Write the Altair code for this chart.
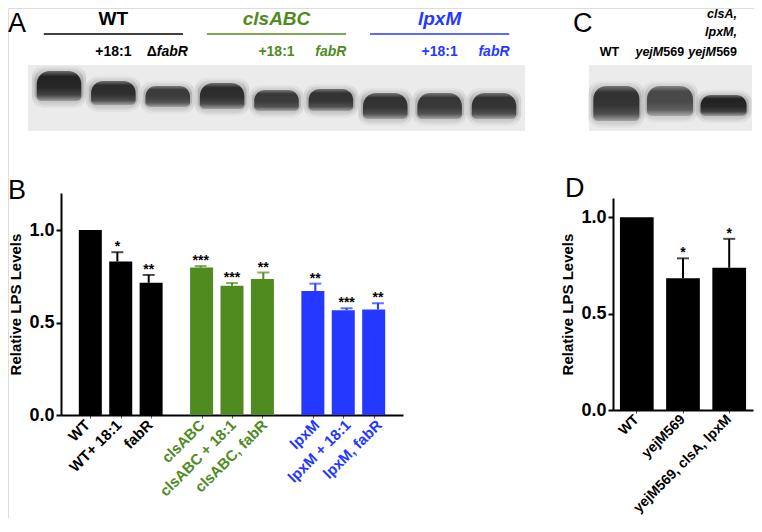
import altair as alt
import pandas as pd

FONT = "Liberation Sans"
GREEN = "#4f8b1f"
BLUE = "#2438ff"
GROUP_COLOR = {"WT": "#000000", "clsABC": GREEN, "lpxM": BLUE}

# ---------------- Panel B data ----------------
b_labels = ["WT", "WT+ 18:1", "fabR", "clsABC", "clsABC + 18:1", "clsABC, fabR",
            "lpxM", "lpxM + 18:1", "lpxM, fabR"]
b_groups = ["WT", "WT", "WT", "clsABC", "clsABC", "clsABC", "lpxM", "lpxM", "lpxM"]
b_values = [1.00, 0.83, 0.715, 0.797, 0.699, 0.735, 0.67, 0.566, 0.57]
b_errors = [0.0, 0.05, 0.042, 0.008, 0.014, 0.035, 0.04, 0.011, 0.034]
b_stars = ["", "*", "**", "***", "***", "**", "**", "***", "**"]

# ---------------- Panel D data ----------------
d_labels = ["WT", "yejM569", "yejM569, clsA, lpxM"]
d_values = [1.00, 0.684, 0.738]
d_errors = [0.0, 0.103, 0.15]
d_stars = ["", "*", "*"]

# ---------------- Panel A blot ----------------
a_groups = ["WT", "clsABC", "lpxM"]
a_lane_groups = ["WT", "WT", "WT", "clsABC", "clsABC", "clsABC", "lpxM", "lpxM", "lpxM"]
a_band_top = [6, 16, 21, 18, 25, 24, 28, 28, 28]        # migration from blot top
a_band_bottom = [36, 40, 42, 44, 46, 46, 54, 54, 54]
a_band_dark = [0.98, 0.92, 0.82, 0.92, 0.84, 0.88, 0.88, 0.85, 0.88]

# ---------------- Panel C blot ----------------
c_band_top = [21, 21, 30]
c_band_bottom = [56, 51, 51]
c_band_dark = [0.88, 0.74, 0.99]

# =====================================================================
# One canvas; every panel gets its own independent scales whose pixel
# ranges place it where it belongs.
W, H = 746, 510

A_XS = dict(domain=[-0.57, 8.57], range=[20, 517])
C_XS = dict(domain=[-0.51, 2.53], range=[581, 744])
BLOT_YS = dict(domain=[0, 66], range=[57, 123])
B_XS = dict(domain=[0, 10.92], range=[53, 395])
B_YS = dict(domain=[0, 1.2], range=[407, 185])
D_XS = dict(type="band", domain=d_labels, range=[605, 745],
            paddingInner=0.27, paddingOuter=0.15)
D_YS = dict(domain=[0, 1.1], range=[402, 190])


def S(d):
    return alt.Scale(**d)


band_grad = alt.LinearGradient(
    gradient="linear", x1=0, y1=0, x2=0, y2=1,
    stops=[alt.GradientStop(color="#6a6a6a", offset=0),
           alt.GradientStop(color="#202020", offset=0.18),
           alt.GradientStop(color="#242424", offset=0.55),
           alt.GradientStop(color="#424242", offset=0.8),
           alt.GradientStop(color="#9e9e9e", offset=1)])
halo_grad = alt.LinearGradient(
    gradient="linear", x1=0, y1=0, x2=0, y2=1,
    stops=[alt.GradientStop(color="#d2d2d2", offset=0),
           alt.GradientStop(color="#8e8e8e", offset=0.3),
           alt.GradientStop(color="#8e8e8e", offset=0.7),
           alt.GradientStop(color="#d4d4d4", offset=1)])


def letter(ch, x, y):
    return alt.Chart(pd.DataFrame({"t": [ch]})).mark_text(
        font=FONT, fontSize=27, align="left", baseline="top", color="black"
    ).encode(text="t:N", x=alt.value(x), y=alt.value(y))


def blot_layers(df, xsd, w_core, w_halo):
    dom = xsd["domain"]
    bg = alt.Chart(pd.DataFrame({"lo": [dom[0]], "hi": [dom[1]], "t": [0], "b": [66]})
                   ).mark_rect(color="#ebebeb").encode(
        x=alt.X("lo:Q", scale=S(xsd), axis=None), x2="hi:Q",
        y=alt.Y("t:Q", scale=S(BLOT_YS), axis=None), y2="b:Q")
    layers = [bg]
    for extra, op in [(0.05, 0.3), (0.0, 0.55)]:
        layers.append(alt.Chart(df).transform_calculate(
            x1=f"datum.lane - {w_halo + extra}", x2=f"datum.lane + {w_halo + extra}",
            t=f"datum.top - {3 + extra * 40}", b=f"datum.bottom + {5 + extra * 40}",
            op=f"datum.dark * {op}"
        ).mark_rect(color=halo_grad, cornerRadius=12).encode(
            x=alt.X("x1:Q", scale=S(xsd), axis=None), x2="x2:Q",
            y=alt.Y("t:Q", scale=S(BLOT_YS), axis=None), y2="b:Q",
            opacity=alt.Opacity("op:Q", scale=None)))
    layers.append(alt.Chart(df).transform_calculate(
        x1=f"datum.lane - {w_core}", x2=f"datum.lane + {w_core}"
    ).mark_rect(color=band_grad, cornerRadiusTopLeft=13, cornerRadiusTopRight=13,
                cornerRadiusBottomLeft=5, cornerRadiusBottomRight=5).encode(
        x=alt.X("x1:Q", scale=S(xsd), axis=None), x2="x2:Q",
        y=alt.Y("top:Q", scale=S(BLOT_YS), axis=None), y2="bottom:Q",
        opacity=alt.Opacity("dark:Q", scale=None)))
    return layers


# ---------------- Panel A ----------------
dfA = pd.DataFrame({"lane": list(range(9)), "group": a_lane_groups,
                    "top": a_band_top, "bottom": a_band_bottom, "dark": a_band_dark})
dfAh = pd.DataFrame({"group": a_groups, "center": [1, 4, 7]})
dfAh["col"] = dfAh["group"].map(GROUP_COLOR)
dfAh["lo"] = dfAh["center"] - 1.28
dfAh["hi"] = dfAh["center"] + 1.28


def ax_a(field):
    return alt.X(field, scale=S(A_XS), axis=None)


head_kw = dict(font=FONT, fontSize=19, fontWeight="bold", baseline="alphabetic")
a_head_up = alt.Chart(dfAh[dfAh.group == "WT"]).mark_text(**head_kw).encode(
    x=ax_a("center:Q"), y=alt.value(17), text="group:N",
    color=alt.Color("col:N", scale=None))
a_head_it = alt.Chart(dfAh[dfAh.group != "WT"]).mark_text(
    fontStyle="italic", **head_kw).encode(
    x=ax_a("center:Q"), y=alt.value(17), text="group:N",
    color=alt.Color("col:N", scale=None))
a_lines = alt.Chart(dfAh).mark_rule(strokeWidth=1.5).encode(
    x=ax_a("lo:Q"), x2="hi:Q", y=alt.value(26), color=alt.Color("col:N", scale=None))

dfA_sub = pd.DataFrame({"lane": [1, 4, 7], "text": ["+18:1"] * 3,
                        "col": [GROUP_COLOR[g] for g in a_groups]})
dfA_fab = pd.DataFrame({"lane": [5, 8], "text": ["fabR"] * 2, "col": [GREEN, BLUE]})
sub_kw = dict(font=FONT, fontSize=14, fontWeight="bold", baseline="alphabetic")
a_sub = alt.Chart(dfA_sub).mark_text(**sub_kw).encode(
    x=ax_a("lane:Q"), y=alt.value(48), text="text:N", color=alt.Color("col:N", scale=None))
a_fab = alt.Chart(dfA_fab).mark_text(fontStyle="italic", **sub_kw).encode(
    x=ax_a("lane:Q"), y=alt.value(48), text="text:N", color=alt.Color("col:N", scale=None))
a_delta = alt.Chart(pd.DataFrame({"lane": [2], "text": ["Δ"]})).mark_text(
    align="right", dx=-11, color="black", **sub_kw).encode(
    x=ax_a("lane:Q"), y=alt.value(48), text="text:N")
a_dfab = alt.Chart(pd.DataFrame({"lane": [2], "text": ["fabR"]})).mark_text(
    align="left", dx=-11, fontStyle="italic", color="black", **sub_kw).encode(
    x=ax_a("lane:Q"), y=alt.value(48), text="text:N")

layers_A = blot_layers(dfA, A_XS, 0.41, 0.45) + [
    a_lines, a_head_up, a_head_it, a_sub, a_fab, a_delta, a_dfab, letter("A", 0, 3)]

# ---------------- Panel C ----------------
dfC = pd.DataFrame({"lane": [0, 1, 2], "top": c_band_top,
                    "bottom": c_band_bottom, "dark": c_band_dark})
ckw = dict(font=FONT, fontSize=12.5, fontWeight="bold", baseline="alphabetic", color="black")


def ctext(xv, t, yv, **kw):
    return alt.Chart(pd.DataFrame({"x": [xv], "t": [t]})).mark_text(**ckw, **kw).encode(
        x=alt.X("x:Q", scale=S(C_XS), axis=None), y=alt.value(yv), text="t:N")


layers_C = blot_layers(dfC, C_XS, 0.43, 0.47) + [
    ctext(-0.13, "WT", 48),
    ctext(0.8, "yejM", 48, align="right", dx=4, fontStyle="italic"),
    ctext(0.8, "569", 48, align="left", dx=4),
    ctext(2.25, "clsA,", 10, align="right", fontStyle="italic"),
    ctext(2.25, "lpxM,", 28, align="right", fontStyle="italic"),
    ctext(2.25, "yejM", 48, align="right", dx=-21, fontStyle="italic"),
    ctext(2.25, "569", 48, align="right"),
    letter("C", 565, 3),
]

# ---------------- Panel B ----------------
gidx = {"WT": 0, "clsABC": 1, "lpxM": 2}
b_pos, cnt = [], {}
for g in b_groups:
    i = cnt.get(g, 0)
    cnt[g] = i + 1
    b_pos.append(round(0.8 + i + gidx[g] * 3.66, 2))
dfB = pd.DataFrame({"pos": b_pos, "label": b_labels, "group": b_groups,
                    "val": b_values, "err": b_errors, "stars": b_stars})
dfB["col"] = dfB["group"].map(GROUP_COLOR)
dfB["top"] = dfB["val"] + dfB["err"]


def yaxis(offset):
    return alt.Axis(orient="left", offset=offset, values=[0, 0.5, 1.0], format=".1f",
                    grid=False, labelFont=FONT, labelFontSize=18, labelFontWeight="bold",
                    labelColor="black", labelPadding=2,
                    domainColor="black", domainWidth=2, tickColor="black",
                    tickWidth=2, tickSize=5,
                    title="Relative LPS Levels", titleFont=FONT, titleFontSize=15,
                    titleFontWeight="bold", titleColor="black", titlePadding=5)


def bx(axis=None):
    return alt.X("pos:Q", scale=S(B_XS), axis=axis)


def by(field, axis=None):
    return alt.Y(field, scale=S(B_YS), axis=axis)


baseB = alt.Chart(dfB)
b_bars = baseB.mark_bar(size=23).encode(
    x=bx(alt.Axis(orient="bottom", offset=407 - H, values=b_pos, labels=False,
                  grid=False, title=None, domainColor="black", domainWidth=2,
                  tickColor="#555", tickSize=3, tickWidth=1)),
    y=by("val:Q", yaxis(-53)), color=alt.Color("col:N", scale=None))
b_rule = baseB.mark_rule(strokeWidth=2).encode(
    x=bx(), y=by("val:Q"), y2="top:Q", color=alt.Color("col:N", scale=None))
b_cap = baseB.transform_filter("datum.err > 0").mark_tick(
    orient="horizontal", size=12, thickness=2).encode(
    x=bx(), y=by("top:Q"), color=alt.Color("col:N", scale=None))
b_star = baseB.mark_text(font=FONT, fontSize=14, fontWeight="bold",
                         baseline="bottom", dy=2, color="black").encode(
    x=bx(), y=by("top:Q"), text="stars:N")
b_xlab = baseB.mark_text(font=FONT, fontSize=15, fontWeight="bold", angle=315,
                         align="right", baseline="middle", dx=2).encode(
    x=bx(), y=alt.value(416), text="label:N", color=alt.Color("col:N", scale=None))

layers_B = [b_bars, b_rule, b_cap, b_star, b_xlab, letter("B", 0, 170)]

# ---------------- Panel D ----------------
dfD = pd.DataFrame({"label": d_labels, "val": d_values, "err": d_errors, "stars": d_stars})
dfD["top"] = dfD["val"] + dfD["err"]


def dx_(axis=None):
    return alt.X("label:N", sort=d_labels, scale=S(D_XS), axis=axis)


def dy_(field, axis=None):
    return alt.Y(field, scale=S(D_YS), axis=axis)


baseD = alt.Chart(dfD)
d_bars = baseD.mark_bar(color="black").encode(
    x=dx_(alt.Axis(orient="bottom", offset=402 - H, labelAngle=315, labelAlign="right",
                   labelBaseline="middle", labelFont=FONT, labelFontSize=14,
                   labelFontWeight="bold", labelColor="black", labelPadding=4,
                   title=None, domainColor="black", domainWidth=2, tickColor="#555",
                   tickSize=3, tickWidth=1)),
    y=dy_("val:Q", yaxis(-605)))
d_rule = baseD.mark_rule(strokeWidth=2, color="black").encode(
    x=dx_(), y=dy_("val:Q"), y2="top:Q")
d_cap = baseD.transform_filter("datum.err > 0").mark_tick(
    orient="horizontal", size=12, thickness=2, color="black").encode(
    x=dx_(), y=dy_("top:Q"))
d_star = baseD.mark_text(font=FONT, fontSize=14, fontWeight="bold",
                         baseline="bottom", dy=2, color="black").encode(
    x=dx_(), y=dy_("top:Q"), text="stars:N")

layers_D = [d_bars, d_rule, d_cap, d_star, letter("D", 557, 168)]

chart = alt.layer(*layers_A, *layers_C, *layers_B, *layers_D).resolve_scale(
    x="independent", y="independent"
).properties(
    width=W, height=H, padding=0, autosize=alt.AutoSizeParams(type="none")
).configure_view(stroke=None).configure(font=FONT)

chart.save("out.html", embed_options={"renderer": "svg", "actions": False})
